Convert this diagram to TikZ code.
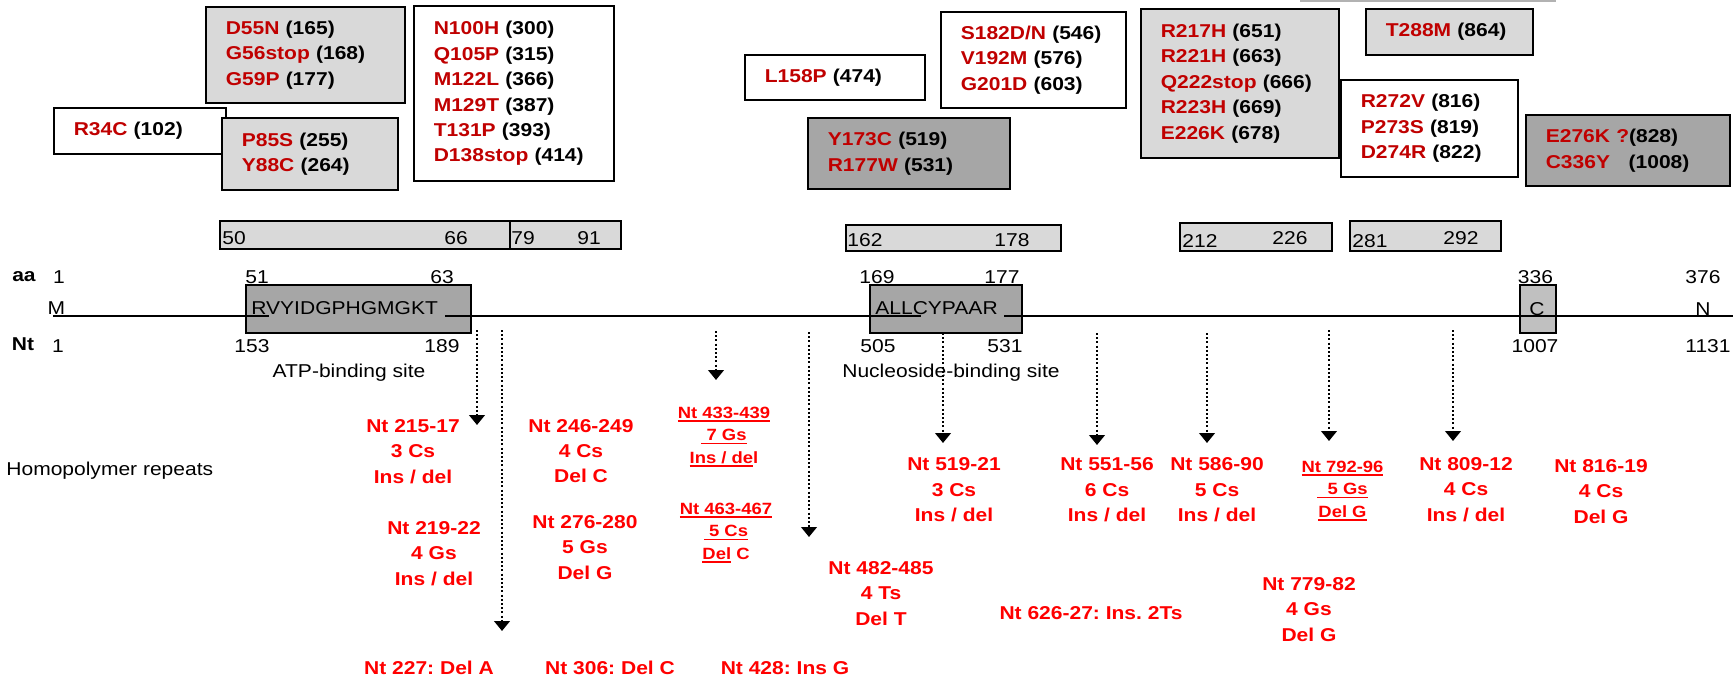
\documentclass[tikz,border=0pt]{standalone}
\usepackage{fontspec}
\setmainfont{Liberation Sans}[FakeStretch=1.13]
\usetikzlibrary{arrows.meta}
\definecolor{mutred}{RGB}{192,0,0}
\definecolor{hpred}{RGB}{255,0,0}
\definecolor{boxlight}{RGB}{217,217,217}
\definecolor{boxdark}{RGB}{166,166,166}
\definecolor{boxmid}{RGB}{192,192,192}
\newcommand{\mut}[2]{\textcolor{mutred}{#1} (#2)}
\newsavebox{\ulsave}
\newcommand{\ulbox}[1]{\sbox{\ulsave}{#1}\rlap{\rule[-1.8pt]{\wd\ulsave}{0.9pt}}\usebox{\ulsave}}
\frenchspacing

\begin{document}
\begin{tikzpicture}[x=0.5pt, y=-0.5pt, font=\fontsize{9.3}{12.7}\selectfont,
    mutbox/.style={draw, fill=white, line width=0.8pt, align=left, inner xsep=10pt, inner ysep=0pt, anchor=west, font=\fontsize{9.3}{12.7}\selectfont\bfseries},
    region/.style={draw, fill=boxlight, line width=0.8pt, inner sep=0pt, anchor=north west},
    site/.style={draw, fill=boxdark, line width=0.8pt, inner sep=0pt, anchor=north west, minimum height=24pt},
    num/.style={inner sep=0pt},
    hp/.style={text=hpred, align=center, inner sep=0pt, font=\fontsize{9.3}{12.7}\selectfont\bfseries},
    hpu/.style={hp, font=\fontsize{8.15}{11.25}\selectfont\bfseries},
    dotarrow/.style={line width=1.2pt, dash pattern=on 1pt off 1.1pt, -{Triangle[width=7.8pt,length=5pt]}},
    backbone/.style={line width=0.85pt}
]
    \useasboundingbox (0,0) rectangle (1733,679);
    \draw[gray!60, line width=0.8pt] (1300,1) -- (1556,1);

    \node[mutbox, text width=66pt, minimum height=23pt] (r34c) at (53,131) {\mut{R34C}{102}};
    \node[mutbox, fill=boxlight, text width=79.5pt, minimum height=48pt] (d55n) at (205,55) {\mut{D55N}{165}\\\mut{G56stop}{168}\\\mut{G59P}{177}};
    \node[mutbox, text width=80pt, minimum height=87.5pt] (n100h) at (413,93.5) {\mut{N100H}{300}\\\mut{Q105P}{315}\\\mut{M122L}{366}\\\mut{M129T}{387}\\\mut{T131P}{393}\\\mut{D138stop}{414}};
    \node[mutbox, fill=boxlight, text width=68pt, minimum height=36pt] (p85s) at (221,154) {\mut{P85S}{255}\\\mut{Y88C}{264}};
    \node[mutbox, text width=70pt, minimum height=22.5pt] (l158p) at (744,77.5) {\mut{L158P}{474}};
    \node[mutbox, text width=72.5pt, minimum height=48pt] (s182) at (940,60) {\mut{S182D/N}{546}\\\mut{V192M}{576}\\\mut{G201D}{603}};
    \node[mutbox, fill=boxdark, text width=81pt, minimum height=35.5pt] (y173c) at (807,153.5) {\mut{Y173C}{519}\\\mut{R177W}{531}};
    \node[mutbox, fill=boxlight, text width=79pt, minimum height=74.5pt] (r217h) at (1140,83.5) {\mut{R217H}{651}\\\mut{R221H}{663}\\\mut{Q222stop}{666}\\\mut{R223H}{669}\\\mut{E226K}{678}};
    \node[mutbox, fill=boxlight, text width=63.5pt, minimum height=23pt] (t288m) at (1365,32) {\mut{T288M}{864}};
    \node[mutbox, text width=68.5pt, minimum height=48.5pt] (r272v) at (1340,128.5) {\mut{R272V}{816}\\\mut{P273S}{819}\\\mut{D274R}{822}};
    \node[mutbox, fill=boxdark, text width=82pt, minimum height=35.5pt] (e276k) at (1525,150.5) {\textcolor{mutred}{E276K ?}(828)\\\mut{C336Y\ \ }{1008}};

    \node[region, minimum width=145pt, minimum height=14pt] (reg50) at (219,220) {};
    \node[region, minimum width=55.5pt, minimum height=14pt] (reg79) at (509,220) {};
    \node[region, minimum width=107.5pt, minimum height=13pt] (reg162) at (845,224) {};
    \node[region, minimum width=76pt, minimum height=14pt] (reg212) at (1179,222) {};
    \node[region, minimum width=75.5pt, minimum height=15pt] (reg281) at (1349,220) {};
    \node[num, anchor=west] (n50) at (222,238) {50};
    \node[num] (n66) at (456,238) {66};
    \node[num] (n79) at (523,238) {79};
    \node[num] (n91) at (589,238) {91};
    \node[num, anchor=west] (n162) at (847,240) {162};
    \node[num] (n178) at (1012,240) {178};
    \node[num, anchor=west] (n212) at (1182,241) {212};
    \node[num] (n226) at (1290,238) {226};
    \node[num, anchor=west] (n281) at (1352,241) {281};
    \node[num] (n292) at (1461,238) {292};

    \node[num, font=\fontsize{9.3}{12.7}\selectfont\bfseries] (aa) at (24,277) {aa};
    \foreach \x/\t in {59/1, 257/51, 442/63, 877/169, 1002/177, 1535.5/336, 1703/376}
        \node[num] (aa\t) at (\x,277) {\t};
    \node[num, font=\fontsize{9.3}{12.7}\selectfont\bfseries] (nt) at (23,344) {Nt};
    \foreach \x/\t in {58/1, 252/153, 442/189, 878/505, 1005/531, 1535/1007, 1708/1131}
        \node[num] (nt\t) at (\x,346) {\t};

    \node[site, minimum width=112.5pt] (atp) at (245,284) {};
    \node[site, minimum width=76pt] (nuc) at (869,284) {};
    \node[site, fill=boxmid, minimum width=18pt] (cbox) at (1519,284) {};
    \node[num] (mres) at (56.5,308) {M};
    \node[num, anchor=west] (atpseq) at (251,308) {RVYIDGPHGMGKT};
    \node[num, anchor=west] (nucseq) at (875,308) {ALLCYPAAR};
    \node[num] (cres) at (1537,309) {C};
    \node[num] (nres) at (1703,309) {N};
    \draw[backbone] (53,316) -- (269,316) (445,316) -- (921,316) (1004,316) -- (1733,316);
    \node[num] (atplbl) at (349,373) {ATP-binding site};
    \node[num] (nuclbl) at (951,373) {Nucleoside-binding site};
    \node[num, anchor=west] (hplbl) at (6,471) {Homopolymer repeats};

    \foreach \n/\x/\ya/\yb in {1/477/330/425, 2/502/330/631, 3/716/331/380, 4/809/332/537, 5/943/333/443, 6/1097/333/445, 7/1207/333/443, 8/1329/330/441, 9/1453/330/441}{
        \coordinate (from\n) at (\x,\ya);
        \coordinate (to\n) at (\x,\yb);
        \draw[dotarrow] (from\n) -- (to\n);
    }

    \node[hp] (hp215) at (413,451.5) {Nt 215-17\\3 Cs\\Ins / del};
    \node[hp] (hp219) at (434,553.5) {Nt 219-22\\4 Gs\\Ins / del};
    \node[hp] (hp246) at (581,451) {Nt 246-249\\4 Cs\\Del C};
    \node[hp] (hp276) at (585,547.5) {Nt 276-280\\5 Gs\\Del G};
    \node[hpu] (hp433) at (724,437) {\ulbox{Nt 433-439}\\\ulbox{\ 7 Gs}\\\ulbox{Ins / de}l};
    \node[hpu] (hp463) at (726,533) {\ulbox{Nt 463-467}\\\ulbox{\ 5 Cs}\\\ulbox{Del} C};
    \node[hp] (hp482) at (881,593.3) {Nt 482-485\\4 Ts\\Del T};
    \node[hp] (hp519) at (954,490) {Nt 519-21\\3 Cs\\Ins / del};
    \node[hp] (hp551) at (1107,490) {Nt 551-56\\6 Cs\\Ins / del};
    \node[hp] (hp586) at (1217,490) {Nt 586-90\\5 Cs\\Ins / del};
    \node[hp] (hp626) at (1091,613.3) {Nt 626-27: Ins. 2Ts};
    \node[hp] (hp779) at (1309,609.5) {Nt 779-82\\4 Gs\\Del G};
    \node[hpu] (hp792) at (1342.5,491) {\ulbox{Nt 792-96}\\\ulbox{\ \ 5 Gs}\\\ulbox{Del G}};
    \node[hp] (hp809) at (1466,489.5) {Nt 809-12\\4 Cs\\Ins / del};
    \node[hp] (hp816) at (1601,491.5) {Nt 816-19\\4 Cs\\Del G};
    \node[hp] (hp227) at (429,667.7) {Nt 227: Del A};
    \node[hp] (hp306) at (610,667.7) {Nt 306: Del C};
    \node[hp] (hp428) at (785,667.7) {Nt 428: Ins G};
\end{tikzpicture}
\end{document}
